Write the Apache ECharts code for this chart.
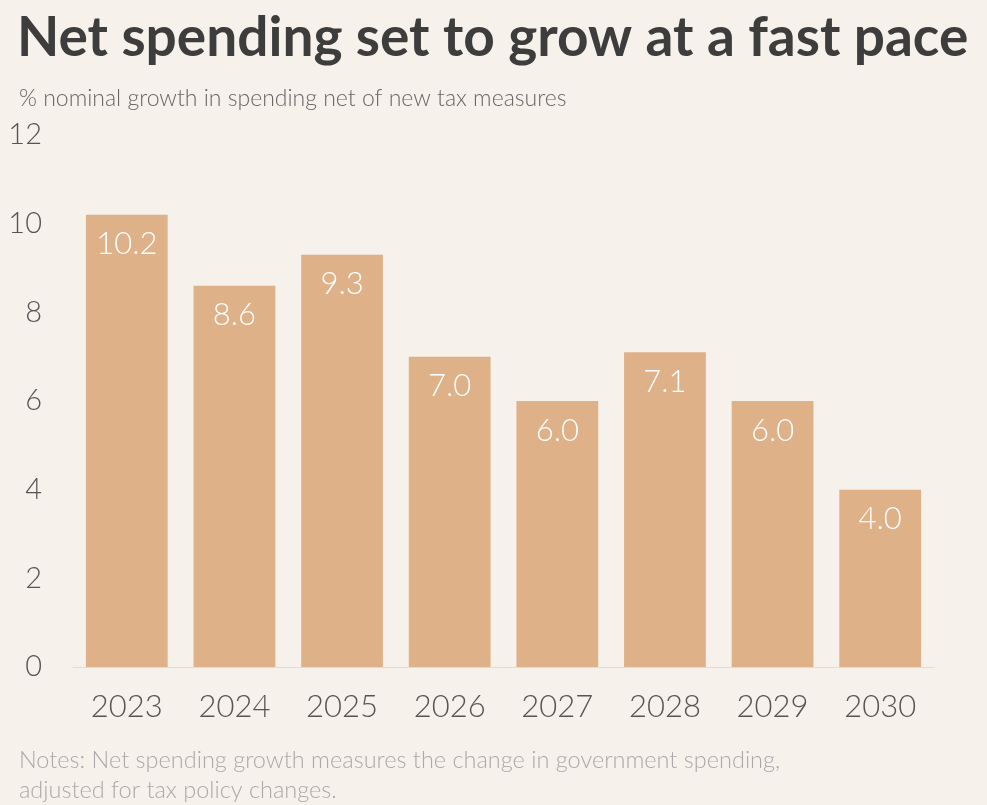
<!DOCTYPE html>
<html><head><meta charset="utf-8">
<script src="https://cdn.jsdelivr.net/npm/echarts@6/dist/echarts.min.js"></script>
<style>html,body{margin:0;padding:0;background:#f6f1eb;}#c{width:987px;height:805px;}</style>
</head><body><div id="c"></div>
<script>
const categories=['2023','2024','2025','2026','2027','2028','2029','2030'];
const values=[10.2,8.6,9.3,7.0,6.0,7.1,6.0,4.0];
const yTicks=[0,2,4,6,8,10,12];
const chart=echarts.init(document.getElementById('c'));
chart.setOption({
 backgroundColor:'#f6f1eb',
 title:[{text:'Net spending set to grow at a fast pace',left:12,top:6,textStyle:{fontFamily:'Lato',fontWeight:'bold',fontSize:55,color:'#3d3d3d'}},
  {text:'% nominal growth in spending net of new tax measures',left:14,top:82,textStyle:{fontFamily:'Lato',fontWeight:300,fontSize:23,color:'#666'}},
  {text:'Notes: Net spending growth measures the change in government spending,\nadjusted for tax policy changes.',left:14,top:740,textStyle:{fontFamily:'Lato',fontWeight:300,fontSize:23.5,lineHeight:30,color:'#aaa'}}],
 grid:{left:73,right:53,top:135,bottom:138},
 xAxis:{type:'category',data:categories,axisTick:{show:false},axisLine:{lineStyle:{color:'#ddd'}},
  axisLabel:{fontFamily:'Lato',fontWeight:300,fontSize:31,color:'#555',margin:24}},
 yAxis:{type:'value',min:0,max:12,interval:2,splitLine:{show:false},
  axisLabel:{fontFamily:'Lato',fontWeight:300,fontSize:29,color:'#555',margin:31,formatter:v=>yTicks.includes(v)?String(v):''}},
 series:[{type:'bar',data:values,barCategoryGap:'24%',itemStyle:{color:'#dfb189'},
  label:{show:true,position:'insideTop',distance:14,formatter:p=>p.value.toFixed(1),color:'#fff',fontFamily:'Lato',fontWeight:300,fontSize:31}}]
});
</script></body></html>
